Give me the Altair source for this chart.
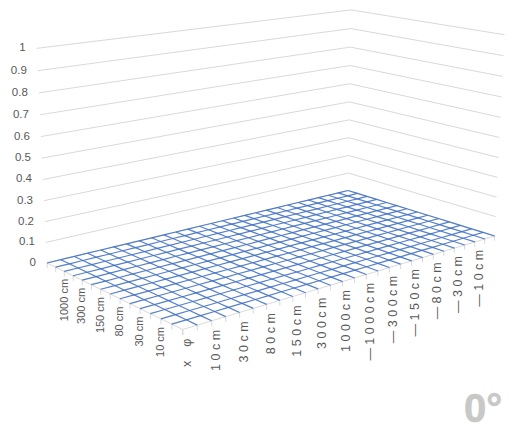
import altair as alt
import numpy as np
import pandas as pd

levels = [0, 0.1, 0.2, 0.3, 0.4, 0.5, 0.6, 0.7, 0.8, 0.9, 1]
level_labels = ["0", "0.1", "0.2", "0.3", "0.4", "0.5", "0.6", "0.7", "0.8", "0.9", "1"]
depth_labels = ["1000 cm", "300 cm", "150 cm", "80 cm", "30 cm", "10 cm"]
width_labels = ["x\u00a0\u00a0\u00a0\u00a0\u03c6", "1 0 c m", "3 0 c m", "8 0 c m", "1 5 0 c m", "3 0 0 c m", "1 0 0 0 c m",
                "\u2014 1 0 0 0 c m", "\u2014 3 0 0 c m", "\u2014 1 5 0 c m", "\u2014 8 0 c m",
                "\u2014 3 0 c m", "\u2014 1 0 c m"]
N_W = 26
N_D = 14
surface_z = np.zeros((N_D + 1, N_W + 1))

# camera: floor corners and wall-top corners as seen in the picture
LEFT, FRONT, RIGHT, BACK = (47, 263), (182.7, 329.5), (494.7, 236), (348, 190.5)
TOP_LEFT, TOP_BACK, TOP_RIGHT = (37, 48.7), (350.3, 10.3), (505, 34)

def solve_camera():
    pairs = [((0, 0), LEFT), ((0, 1), FRONT), ((1, 1), RIGHT), ((1, 0), BACK)]
    A, b = [], []
    for (u, v), (x, y) in pairs:
        A.append([u, v, 1, 0, 0, 0, -x * u, -x * v]); b.append(x)
        A.append([0, 0, 0, u, v, 1, -y * u, -y * v]); b.append(y)
    h = np.linalg.solve(np.array(A, float), np.array(b, float))
    H = np.array([[h[0], h[1], h[2]], [h[3], h[4], h[5]], [h[6], h[7], 1.0]])
    A, b = [], []
    for (u, v), (x, y) in [((0, 0), TOP_LEFT), ((1, 0), TOP_BACK), ((1, 1), TOP_RIGHT)]:
        p = H @ np.array([u, v, 1.0])
        A.append([1, 0, -x]); b.append(x * p[2] - p[0])
        A.append([0, 1, -y]); b.append(y * p[2] - p[1])
    h4 = np.linalg.lstsq(np.array(A, float), np.array(b, float), rcond=None)[0]
    return H, h4

H, H4 = solve_camera()

def project(u, v, z=0.0):
    p = H @ np.array([u, v, 1.0]) + H4 * z
    return p[0] / p[2], p[1] / p[2]

def line_rows(group, pts):
    return [{"g": group, "o": k, "x": project(*pt)[0], "y": project(*pt)[1]} for k, pt in enumerate(pts)]

wall, edge, ticks, blue = [], [], [], []
for lv in levels:
    wall += line_rows(f"w{lv}", [(0, 0, lv), (1, 0, lv), (1, 1, lv)])
edge += line_rows("e", [(0, 0, 0), (0, 1, 0), (1, 1, 0)])
for i in range(N_D + 1):
    ticks += line_rows(f"d{i}", [(0, i / N_D, 0), (0, i / N_D, -0.024)])
for j in range(N_W + 1):
    ticks += line_rows(f"f{j}", [(j / N_W, 1, 0), (j / N_W, 1, -0.024)])
for i in range(N_D):
    blue += line_rows(f"r{i}", [(j / N_W, i / N_D, surface_z[i, j]) for j in range(N_W + 1)])
for j in range(1, N_W + 1):
    blue += line_rows(f"c{j}", [(j / N_W, i / N_D, surface_z[i, j]) for i in range(N_D + 1)])

level_rows = []
for lv, t in zip(levels, level_labels):
    x, y = project(0, 0, lv)
    level_rows.append({"x": x - 11, "y": y, "t": t})
depth_rows = []
for k, t in enumerate(depth_labels):
    x, y = project(0, (2 + 2 * k) / N_D, -0.036)
    depth_rows.append({"x": x, "y": y, "t": t})
width_rows = []
for k, t in enumerate(width_labels):
    x, y = project(2 * k / N_W, 1, -0.04)
    width_rows.append({"x": x + 4, "y": y, "t": t})

W, Hh = 508, 418
xs = alt.Scale(domain=[8, 8 + W], range=[0, W])
ys = alt.Scale(domain=[8, 8 + Hh], range=[0, Hh])
X = alt.X("x:Q", scale=xs, axis=None)
Y = alt.Y("y:Q", scale=ys, axis=None)

def lines(rows, color, width, opacity=1.0):
    return alt.Chart(pd.DataFrame(rows)).mark_line(color=color, strokeWidth=width, opacity=opacity, interpolate="linear").encode(
        x=X, y=Y, detail="g:N", order="o:Q")

FONT = "Liberation Sans"
TC = "#595959"
txt_y = alt.Chart(pd.DataFrame(level_rows)).mark_text(font=FONT, fontSize=11.5, color=TC, align="right", baseline="middle").encode(x=X, y=Y, text="t:N")
txt_d = alt.Chart(pd.DataFrame(depth_rows)).mark_text(font=FONT, fontSize=11, color=TC, align="right", baseline="middle", angle=270).encode(x=X, y=Y, text="t:N")
txt_w = alt.Chart(pd.DataFrame(width_rows)).mark_text(font=FONT, fontSize=12.5, color=TC, align="right", baseline="middle", angle=270).encode(x=X, y=Y, text="t:N")
mark = alt.Chart(pd.DataFrame([{"x": 464, "y": 422, "t": "0\u00b0"}])).mark_text(
    font=FONT, fontWeight="bold", fontSize=40, color="#c8c8c8", stroke="#c8c8c8", strokeWidth=0.6,
    align="left", baseline="alphabetic"
).encode(x=X, y=Y, text="t:N")

chart = alt.layer(
    lines(wall, "#d9d9d9", 1), lines(edge, "#d9d9d9", 1), lines(ticks, "#d9d9d9", 1),
    lines(blue, "#4472c4", 1.2, 0.9), txt_y, txt_d, txt_w, mark
).properties(width=W, height=Hh, padding=0, autosize=alt.AutoSizeParams(type="none"), background="white").configure_view(stroke=None)

chart.save("out.html", embed_options={"renderer": "svg", "actions": False})
